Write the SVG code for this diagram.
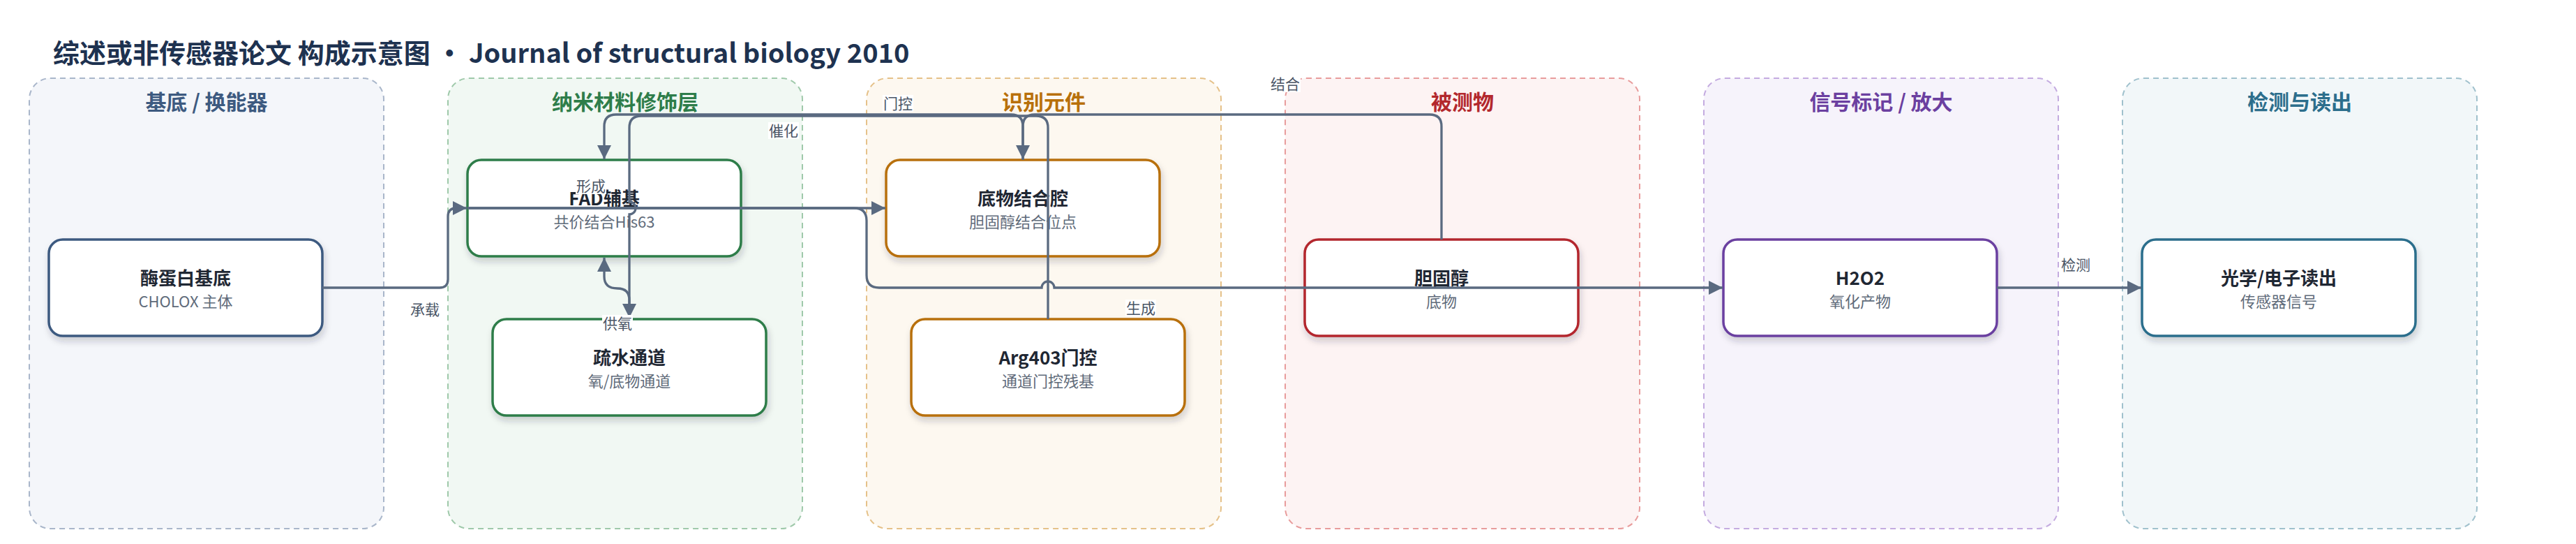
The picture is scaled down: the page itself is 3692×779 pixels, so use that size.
<svg xmlns="http://www.w3.org/2000/svg" width="3692" height="779" viewBox="0 0 3692 779">
<style>
text{font-family:"Noto Sans CJK SC","Noto Sans",sans-serif}
.title{font-size:38px;font-weight:700;fill:#1e3250}
.gt{font-size:30px;font-weight:700;text-anchor:middle}
.grp{stroke-width:2;stroke-dasharray:8 6}
.node{fill:#fff;stroke-width:3.5;filter:url(#sh)}
.nt{font-size:26px;font-weight:700;fill:#1f2733;text-anchor:middle}
.ns{font-size:22px;fill:#5f6b7a;text-anchor:middle}
.e{fill:none;stroke:#5a6a80;stroke-width:3.3}
.ea{marker-end:url(#arr)}
.lb{fill:#fff}
.lt{font-size:21px;fill:#4a5566;text-anchor:middle}
</style>
<defs>
<filter id="sh" x="-10%" y="-20%" width="125%" height="150%"><feDropShadow dx="2" dy="6" stdDeviation="5" flood-color="#1e293b" flood-opacity="0.2"/></filter>
<marker id="arr" viewBox="0 0 20 20" refX="20" refY="10" markerWidth="20" markerHeight="20" markerUnits="userSpaceOnUse" orient="auto"><path d="M0,0 L20,10 L0,20 z" fill="#5a6a80"/></marker>
</defs>
<rect width="3692" height="779" fill="#fff"/>
<text class="title" x="76" y="90">综述或非传感器论文 构成示意图 · Journal of structural biology 2010</text>

<g id="group-substrate">
<rect class="grp" x="42" y="112" width="508" height="645" rx="30" fill="#f4f6fa" stroke="#a9b6ca"/>
<text class="gt" x="296" y="157" fill="#3d5a80">基底 / 换能器</text>
</g>
<g id="group-nano">
<rect class="grp" x="642" y="112" width="508" height="645" rx="30" fill="#f1f8f3" stroke="#9fc9aa"/>
<text class="gt" x="896" y="157" fill="#2e7d4a">纳米材料修饰层</text>
</g>
<g id="group-recog">
<rect class="grp" x="1242" y="112" width="508" height="645" rx="30" fill="#fdf8f0" stroke="#e5c189"/>
<text class="gt" x="1496" y="157" fill="#b8700a">识别元件</text>
</g>
<g id="group-analyte">
<rect class="grp" x="1842" y="112" width="508" height="645" rx="30" fill="#fdf3f3" stroke="#e89c9c"/>
<text class="gt" x="2096" y="157" fill="#b3282d">被测物</text>
</g>
<g id="group-signal">
<rect class="grp" x="2442" y="112" width="508" height="645" rx="30" fill="#f6f3fb" stroke="#c4abe0"/>
<text class="gt" x="2696" y="157" fill="#6b3fa0">信号标记 / 放大</text>
</g>
<g id="group-readout">
<rect class="grp" x="3042" y="112" width="508" height="645" rx="30" fill="#f2f7f9" stroke="#a0c1cd"/>
<text class="gt" x="3296" y="157" fill="#2c6e8c">检测与读出</text>
</g>

<g id="n-enzyme">
<rect class="node" x="70" y="343" width="392" height="138" rx="20" stroke="#3d5a80"/>
<text class="nt" x="266" y="408">酶蛋白基底</text>
<text class="ns" x="266" y="440">CHOLOX 主体</text>
</g>
<g id="n-fad">
<rect class="node" x="670" y="229" width="392" height="138" rx="20" stroke="#2e7d4a"/>
<text class="nt" x="866" y="294">FAD辅基</text>
<text class="ns" x="866" y="326">共价结合His63</text>
</g>
<g id="n-channel">
<rect class="node" x="706" y="457" width="392" height="138" rx="20" stroke="#2e7d4a"/>
<text class="nt" x="902" y="522">疏水通道</text>
<text class="ns" x="902" y="554">氧/底物通道</text>
</g>
<g id="n-cavity">
<rect class="node" x="1270" y="229" width="392" height="138" rx="20" stroke="#b8700a"/>
<text class="nt" x="1466" y="294">底物结合腔</text>
<text class="ns" x="1466" y="326">胆固醇结合位点</text>
</g>
<g id="n-arg">
<rect class="node" x="1306" y="457" width="392" height="138" rx="20" stroke="#b8700a"/>
<text class="nt" x="1502" y="522">Arg403门控</text>
<text class="ns" x="1502" y="554">通道门控残基</text>
</g>
<g id="n-chol">
<rect class="node" x="1870" y="343" width="392" height="138" rx="20" stroke="#b3282d"/>
<text class="nt" x="2066" y="408">胆固醇</text>
<text class="ns" x="2066" y="440">底物</text>
</g>
<g id="n-h2o2">
<rect class="node" x="2470" y="343" width="392" height="138" rx="20" stroke="#6b3fa0"/>
<text class="nt" x="2666" y="408">H2O2</text>
<text class="ns" x="2666" y="440">氧化产物</text>
</g>
<g id="n-readout">
<rect class="node" x="3070" y="343" width="392" height="138" rx="20" stroke="#2c6e8c"/>
<text class="nt" x="3266" y="408">光学/电子读出</text>
<text class="ns" x="3266" y="440">传感器信号</text>
</g>

<g id="connectors">
<path class="e ea" d="M462 412 H630 Q642 412 642 400 V310 Q642 298 654 298 H669"/>
<path class="e ea" d="M670 298 H1269"/>
<path class="e ea" d="M2066 343 V181 Q2066 164 2049 164 H1483 Q1466 164 1466 181 V228"/>
<path class="e ea" d="M1466 229 V181 Q1466 164 1449 164 H883 Q866 164 866 181 V228"/>
<path class="e ea" d="M1502 457 V183 Q1502 166 1485 166 H919 Q902 166 902 183 V289 A9 9 0 0 1 902 307 V455"/>
<path class="e ea" d="M902 457 V430 Q902 413 885 413 Q866 413 866 396 V369"/>
<path class="e ea" d="M670 298 H1224 Q1242 298 1242 316 V394 Q1242 412 1260 412 H1493 A9 9 0 0 1 1511 412 H2469"/>
<path class="e ea" d="M2862 412 H3069"/>
</g>

<g id="edge-labels">
<rect class="lb" x="587" y="431" width="44" height="24"/><text class="lt" x="609" y="451">承载</text>
<rect class="lb" x="825" y="254" width="44" height="24"/><text class="lt" x="847" y="274">形成</text>
<rect class="lb" x="1101" y="175" width="44" height="24"/><text class="lt" x="1123" y="195">催化</text>
<rect class="lb" x="863" y="451" width="44" height="24"/><text class="lt" x="885" y="471">供氧</text>
<rect class="lb" x="1265" y="136" width="44" height="24"/><text class="lt" x="1287" y="156">门控</text>
<rect class="lb" x="1820" y="108" width="44" height="24"/><text class="lt" x="1842" y="128">结合</text>
<rect class="lb" x="1613" y="429" width="44" height="24"/><text class="lt" x="1635" y="449">生成</text>
<rect class="lb" x="2953" y="367" width="44" height="24"/><text class="lt" x="2975" y="387">检测</text>
</g>
</svg>
